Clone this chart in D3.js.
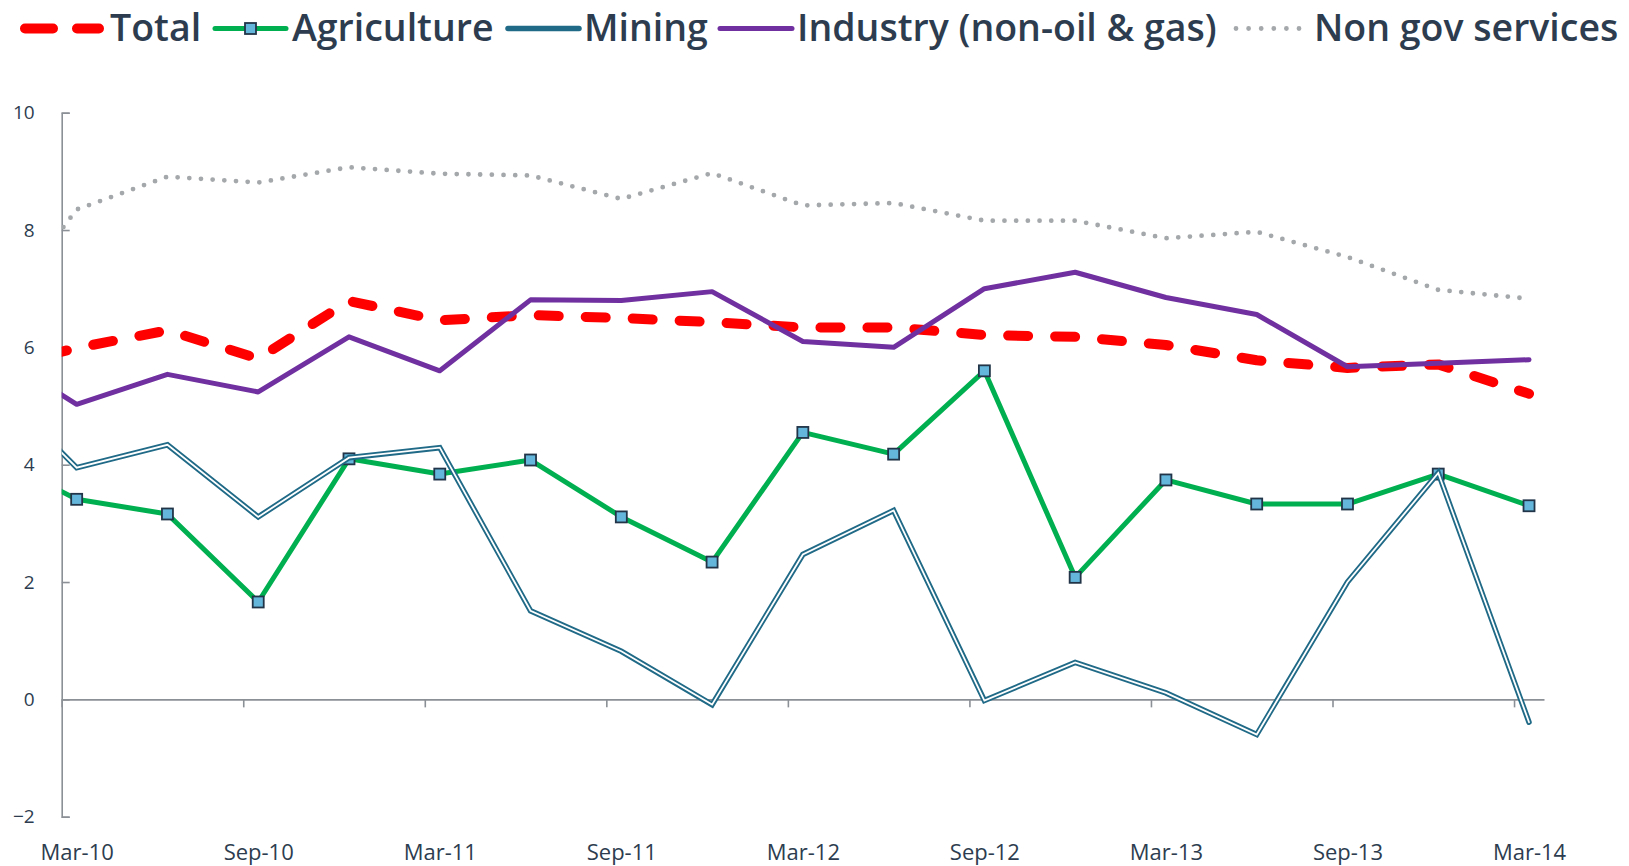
<!DOCTYPE html>
<html>
<head>
<meta charset="utf-8">
<script src="https://cdn.jsdelivr.net/npm/d3@7"></script>
<style>
  html, body { margin: 0; padding: 0; background: #ffffff; }
  svg { display: block; }
  text { font-family: "Open Sans", "Noto Sans", sans-serif; fill: #2D3D4F; }
</style>
</head>
<body>
<svg id="chart" width="1629" height="866"></svg>
<script>
// ---------------- data ----------------
const quarters = ["Dec-09","Mar-10","Jun-10","Sep-10","Dec-10","Mar-11","Jun-11","Sep-11","Dec-11",
                  "Mar-12","Jun-12","Sep-12","Dec-12","Mar-13","Jun-13","Sep-13","Dec-13","Mar-14"];
const tickLabels = ["Mar-10","Sep-10","Mar-11","Sep-11","Mar-12","Sep-12","Mar-13","Sep-13","Mar-14"];
const yTicks = [-2, 0, 2, 4, 6, 8, 10];

const total       = [5.60, 5.99, 6.29, 5.81, 6.79, 6.46, 6.55, 6.50, 6.43, 6.34, 6.34, 6.21, 6.18, 6.04, 5.78, 5.65, 5.71, 5.21];
const agriculture = [4.20, 3.41, 3.16, 1.66, 4.10, 3.84, 4.08, 3.11, 2.34, 4.55, 4.18, 5.60, 2.08, 3.74, 3.33, 3.33, 3.84, 3.30];
const mining      = [5.50, 3.95, 4.34, 3.11, 4.12, 4.29, 1.51, 0.82, -0.09, 2.47, 3.22, -0.02, 0.63, 0.11, -0.60, 2.00, 3.86, -0.39];
const industry    = [6.00, 5.03, 5.54, 5.24, 6.18, 5.60, 6.81, 6.80, 6.95, 6.10, 6.00, 7.00, 7.28, 6.85, 6.56, 5.67, 5.73, 5.79];
const nonGov      = [6.30, 8.35, 8.91, 8.81, 9.07, 8.96, 8.93, 8.53, 8.97, 8.42, 8.46, 8.16, 8.16, 7.86, 7.97, 7.54, 6.98, 6.83];

const seriesNames = ["Total", "Agriculture", "Mining", "Industry (non-oil & gas)", "Non gov services"];

(function () {
// ---------------- layout ----------------
const svg = d3.select("#chart");
const pLeft = 61.7, pRight = 1544, pTop = 112.7, pBottom = 816.7;
const pad = 0.165;
const x = d3.scaleLinear().domain([1 - pad, quarters.length - 1 + pad]).range([pLeft, pRight]);
const y = d3.scaleLinear().domain([-2, 10]).range([pBottom, pTop]);

const axisColor = "#8B9096";
const C = { total: "#FF0000", agri: "#00B050", mining: "#206A87", industry: "#7030A0", nongov: "#A5A8AB",
            markerFill: "#64B7DB", markerStroke: "#223548" };

// y axis
const yAxis = d3.axisLeft(y).tickValues(yTicks).tickSize(-8).tickPadding(27).tickFormat(d3.format("d"));
const gy = svg.append("g").attr("transform", `translate(${pLeft},0)`).call(yAxis);
gy.select(".domain").attr("stroke", axisColor).attr("stroke-width", 1.6);
gy.selectAll(".tick line").attr("stroke", axisColor).attr("stroke-width", 1.6);
gy.selectAll(".tick text").attr("font-size", 19).attr("fill", "#2D3D4F")
  .style("font-family", '"Open Sans", sans-serif');

// x axis: tick marks between label positions (date-axis style)
const x0 = x.domain()[0];
const tickMarks = d3.range(tickLabels.length).map(k => x0 + 2 * k);
const xAxisMarks = d3.axisBottom(x).tickValues(tickMarks).tickSize(8).tickFormat("").tickSizeOuter(0);
const gx = svg.append("g").attr("transform", `translate(0,${y(0)})`).call(xAxisMarks);
gx.select(".domain").attr("stroke", axisColor).attr("stroke-width", 1.6);
gx.selectAll(".tick line").attr("stroke", axisColor).attr("stroke-width", 1.6);

// x labels at data points
const xAxisLabels = d3.axisBottom(x).tickValues(tickLabels.map(l => quarters.indexOf(l)))
  .tickSize(0).tickFormat(i => quarters[i]);
const gxl = svg.append("g").attr("transform", `translate(0,${y(0)})`).call(xAxisLabels);
gxl.select(".domain").remove();
gxl.selectAll(".tick text").attr("font-size", 22).attr("dy", 0).attr("y", 860 - y(0))
  .attr("fill", "#2D3D4F").style("font-family", '"Open Sans", sans-serif');

// clip
svg.append("defs").append("clipPath").attr("id", "plotClip")
  .append("rect").attr("x", pLeft).attr("y", 0).attr("width", pRight - pLeft + 30).attr("height", 866);

const plot = svg.append("g").attr("clip-path", "url(#plotClip)");
const line = d3.line().x((d, i) => x(i)).y(d => y(d));

// Total
plot.append("path").datum(total).attr("d", line).attr("fill", "none")
  .attr("stroke", C.total).attr("stroke-width", 10).attr("stroke-linecap", "round").attr("stroke-linejoin", "round")
  .attr("stroke-dasharray", "20,27").attr("stroke-dashoffset", 30.5);

// Agriculture
plot.append("path").datum(agriculture).attr("d", line).attr("fill", "none")
  .attr("stroke", C.agri).attr("stroke-width", 5).attr("stroke-linejoin", "round");
plot.selectAll("rect.agm").data(agriculture).enter().append("rect").attr("class", "agm")
  .attr("x", (d, i) => x(i) - 5.5).attr("y", d => y(d) - 5.5).attr("width", 11).attr("height", 11)
  .attr("fill", C.markerFill).attr("stroke", C.markerStroke).attr("stroke-width", 1.8);

// Mining (double line)
plot.append("path").datum(mining).attr("d", line).attr("fill", "none")
  .attr("stroke", C.mining).attr("stroke-width", 5.5).attr("stroke-linejoin", "miter").attr("stroke-linecap", "round");
plot.append("path").datum(mining).attr("d", line).attr("fill", "none")
  .attr("stroke", "#ffffff").attr("stroke-width", 1.8).attr("stroke-linejoin", "miter").attr("stroke-linecap", "round");

// Industry
plot.append("path").datum(industry).attr("d", line).attr("fill", "none")
  .attr("stroke", C.industry).attr("stroke-width", 5).attr("stroke-linejoin", "round").attr("stroke-linecap", "round");

// Non gov services (dotted)
plot.append("path").datum(nonGov).attr("d", line).attr("fill", "none")
  .attr("stroke", C.nongov).attr("stroke-width", 4.8).attr("stroke-linecap", "round").attr("stroke-linejoin", "round")
  .attr("stroke-dasharray", "0,11.7");

// ---------------- legend ----------------
const leg = svg.append("g");
const legY = 28.5, legBase = 41, fontSize = 37.5;
function legText(x, label) {
  leg.append("text").attr("x", x).attr("y", legBase).attr("font-size", fontSize)
    .attr("font-weight", 600).text(label);
}
// Total
leg.append("line").attr("x1", 25).attr("x2", 99).attr("y1", legY).attr("y2", legY)
  .attr("stroke", C.total).attr("stroke-width", 10).attr("stroke-linecap", "round").attr("stroke-dasharray", "28,24");
legText(110, seriesNames[0]);
// Agriculture
leg.append("line").attr("x1", 215).attr("x2", 286).attr("y1", legY).attr("y2", legY)
  .attr("stroke", C.agri).attr("stroke-width", 5).attr("stroke-linecap", "round");
leg.append("rect").attr("x", 250.5 - 5.5).attr("y", legY - 5.5).attr("width", 11).attr("height", 11)
  .attr("fill", C.markerFill).attr("stroke", C.markerStroke).attr("stroke-width", 1.8);
legText(292, seriesNames[1]);
// Mining
leg.append("line").attr("x1", 508).attr("x2", 579).attr("y1", legY).attr("y2", legY)
  .attr("stroke", C.mining).attr("stroke-width", 5.5).attr("stroke-linecap", "round");
legText(584, seriesNames[2]);
// Industry
leg.append("line").attr("x1", 720).attr("x2", 792).attr("y1", legY).attr("y2", legY)
  .attr("stroke", C.industry).attr("stroke-width", 5).attr("stroke-linecap", "round");
legText(797, seriesNames[3]);
// Non gov services
leg.append("line").attr("x1", 1236).attr("x2", 1299).attr("y1", legY).attr("y2", legY)
  .attr("stroke", C.nongov).attr("stroke-width", 4.8).attr("stroke-linecap", "round").attr("stroke-dasharray", "0,12.6");
legText(1314, seriesNames[4]);
})();
</script>
</body>
</html>
